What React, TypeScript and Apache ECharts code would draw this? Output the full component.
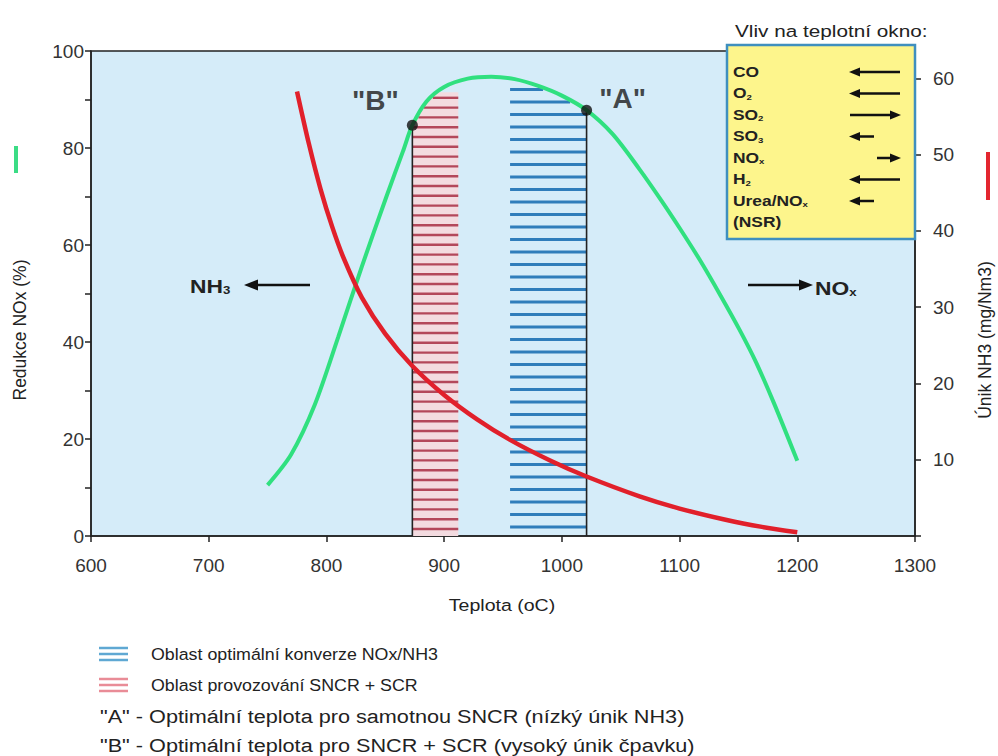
import React, { useEffect, useRef } from "react";
import * as echarts from "echarts";

// ---- data ----
const tempGreen = [750, 770, 790, 810, 830, 851, 865, 873, 885, 900, 920, 940, 960, 980, 1000, 1021, 1043, 1066, 1085, 1100, 1117, 1135, 1151, 1165, 1180, 1200];
const noxReduction = [10.5, 16.8, 27, 41, 55.5, 70, 79.3, 84.7, 89.6, 92.6, 94.3, 94.7, 94.2, 92.8, 90.8, 87.8, 82.9, 75.6, 69, 63.5, 57, 49.5, 42.5, 35.8, 27.5, 15.5];

const tempNH3 = [775, 785, 795, 805, 815, 830, 850, 873, 900, 928, 956, 990, 1021, 1066, 1100, 1140, 1170, 1200];
const nh3Slip = [58.3, 51.5, 45.5, 40.5, 36.3, 31.3, 26.5, 22.3, 18.5, 15.3, 12.6, 9.9, 7.8, 5.2, 3.6, 2.1, 1.2, 0.5];

const xAxisTitle = "Teplota (oC)";
const leftAxisTitle = "Redukce NOx (%)";
const rightAxisTitle = "Únik NH3 (mg/Nm3)";
const rightTickValues = [0, 10, 20, 30, 40, 50, 60];
const rightLabelValues = [10, 20, 30, 40, 50, 60];

// hatched zones: [0] SNCR + SCR (red), [1] optimal conversion (blue)
const zoneFrom = [873, 956];
const zoneTo = [912, 1021];
const zoneTop = [91.5, 92.6];

const markerTemps = [873, 1021];
const markerNox = [84.7, 87.8];
const markerLabels = ['"B"', '"A"'];

const influenceTitle = "Vliv na teplotní okno:";
const influenceLabels = ["{b|CO}", "{b|O}{s|2}", "{b|SO}{s|2}", "{b|SO}{s|3}", "{b|NO}{s|x}", "{b|H}{s|2}", "{b|Urea/NO}{s|x}", "{b|(NSR)}"];
const influenceShift = [-2, -2, 2, -1, 1, -2, -1, 0];

const legendHatch = ["Oblast optimální konverze NOx/NH3", "Oblast provozování SNCR + SCR"];
const legendNotes = ['"A" - Optimální teplota pro samotnou SNCR (nízký únik NH3)', '"B" - Optimální teplota pro SNCR + SCR (vysoký únik čpavku)'];

const FONT = '"Liberation Sans", Arial, Helvetica, sans-serif';

function arrow(x1: number, x2: number, y: number, lw: number, head: number, hw: number) {
  const dir = x2 > x1 ? 1 : -1;
  const tipBase = x2 - dir * head;
  return [
    { type: "line", z: 120, shape: { x1, y1: y, x2: tipBase, y2: y }, style: { stroke: "#111", lineWidth: lw } },
    { type: "polygon", z: 120, shape: { points: [[x2, y], [tipBase, y - hw], [tipBase, y + hw]] }, style: { fill: "#111" } },
  ];
}

export default function App() {
  const ref = useRef<HTMLDivElement>(null);
  useEffect(() => {
    document.body.style.margin = "0";
    const chart = echarts.init(ref.current!, null, { renderer: "svg" });

    const zoneRender = (params: any, api: any) => {
      const x0 = api.value(0), x1 = api.value(1), top = api.value(2);
      const isRed = params.dataIndex === 0;
      const pts = tempGreen.map((t, i) => api.coord([t, noxReduction[i]]));
      const gy = (px: number) => {
        for (let i = 0; i < pts.length - 1; i++) {
          const a = pts[i], b = pts[i + 1];
          if (px >= a[0] && px <= b[0]) {
            const f = (px - a[0]) / (b[0] - a[0]);
            return a[1] + f * (b[1] - a[1]);
          }
        }
        return Infinity;
      };
      const pa = api.coord([x0, 0]);
      const pb = api.coord([x1, 0]);
      const pt = api.coord([x0, top]);
      const children: any[] = [];
      const xs: number[] = [];
      for (let px = pa[0]; px < pb[0]; px += 0.5) xs.push(px);
      xs.push(pb[0]);
      if (isRed) {
        const poly: number[][] = [[pa[0], pa[1]], [pb[0], pb[1]]];
        for (let k = xs.length - 1; k >= 0; k--) {
          poly.push([xs[k], Math.max(gy(xs[k]), pt[1])]);
        }
        children.push({ type: "polygon", shape: { points: poly }, style: { fill: "#f3dbe0" } });
      }
      const step = isRed ? 9.8 : 12.5;
      const lw = isRed ? 2.4 : 3.2;
      const color = isRed ? "#b3475a" : "#2f7dbb";
      for (let y = pa[1] - (isRed ? 7 : 9); y >= pt[1] - 0.1; y -= step) {
        let start: number | null = null, last = 0;
        const push = (s: number, e: number) => {
          if (e - s > 1) children.push({ type: "line", shape: { x1: s, y1: y, x2: e, y2: y }, style: { stroke: color, lineWidth: lw } });
        };
        for (const px of xs) {
          const inside = gy(px) <= y - 1.5;
          if (inside) {
            if (start === null) start = px;
            last = px;
          } else if (start !== null) {
            push(start, last);
            start = null;
          }
        }
        if (start !== null) push(start, last);
      }
      return { type: "group", children };
    };

    const graphic: any[] = [];
    // axis titles and colour markers
    graphic.push({ type: "text", z: 120, x: 20, y: 330, rotation: Math.PI / 2, style: { text: leftAxisTitle, font: `17.5px ${FONT}`, fill: "#222", align: "center", verticalAlign: "middle" } });
    graphic.push({ type: "rect", z: 120, shape: { x: 14, y: 146, width: 4, height: 27 }, style: { fill: "#3bdc85" } });
    graphic.push({ type: "text", z: 120, x: 985, y: 340, rotation: Math.PI / 2, style: { text: rightAxisTitle, font: `17.5px ${FONT}`, fill: "#222", align: "center", verticalAlign: "middle" } });
    graphic.push({ type: "rect", z: 120, shape: { x: 986, y: 152, width: 4, height: 48 }, style: { fill: "#e3262f" } });
    graphic.push({ type: "text", z: 120, x: 502, y: 605, scaleX: 1.15, style: { text: xAxisTitle, font: `17px ${FONT}`, fill: "#222", align: "center", verticalAlign: "middle" } });

    // NH3 / NOx arrows in plot
    const richBig = { b: { font: `bold 19px ${FONT}`, fill: "#222", verticalAlign: "bottom", lineHeight: 20 }, s: { font: `bold 11px ${FONT}`, fill: "#222", verticalAlign: "bottom", lineHeight: 10 } };
    graphic.push({ type: "text", z: 120, x: 190, y: 286, scaleX: 1.2, style: { text: "{b|NH}{s|3}", rich: richBig, verticalAlign: "middle" } });
    graphic.push(...arrow(310, 244, 285, 2.5, 14, 5.5));
    graphic.push(...arrow(748, 813, 285, 2.5, 14, 5.5));
    graphic.push({ type: "text", z: 120, x: 815, y: 288, scaleX: 1.2, style: { text: "{b|NO}{s|x}", rich: richBig, verticalAlign: "middle" } });

    // influence box
    graphic.push({ type: "text", z: 120, x: 735, y: 31, scaleX: 1.22, style: { text: influenceTitle, font: `17px ${FONT}`, fill: "#222", verticalAlign: "middle" } });
    graphic.push({ type: "rect", z: 110, shape: { x: 727, y: 45, width: 188, height: 194 }, style: { fill: "#fdf58c", stroke: "#3f8fbf", lineWidth: 2.5 } });
    influenceLabels.forEach((lab, i) => {
      const y = 72 + i * 21.5;
      graphic.push({ type: "text", z: 120, x: 733, y, scaleX: 1.2, style: { text: lab, rich: { b: { font: `bold 14.5px ${FONT}`, fill: "#222", verticalAlign: "bottom", lineHeight: 15 }, s: { font: `bold 8px ${FONT}`, fill: "#222", verticalAlign: "bottom", lineHeight: 7 } }, verticalAlign: "middle" } });
      const sh = influenceShift[i];
      if (sh === -2) graphic.push(...arrow(900, 849, y, 2.5, 11, 4.5));
      if (sh === 2) graphic.push(...arrow(850, 901, y, 2.5, 11, 4.5));
      if (sh === -1) graphic.push(...arrow(874, 849, y, 2.5, 11, 4.5));
      if (sh === 1) graphic.push(...arrow(877, 901, y, 2.5, 11, 4.5));
    });

    // bottom legend
    const legendY = [654, 685];
    legendHatch.forEach((t, i) => {
      const y = legendY[i];
      const c = i === 0 ? "#5fa8d3" : "#e98c97";
      [-6, 0, 6].forEach((d) => {
        graphic.push({ type: "line", z: 120, shape: { x1: 99, y1: y + d, x2: 128, y2: y + d }, style: { stroke: c, lineWidth: 2.5 } });
      });
      graphic.push({ type: "text", z: 120, x: 151, y, scaleX: 1.08, style: { text: t, font: `16.5px ${FONT}`, fill: "#222", verticalAlign: "middle" } });
    });
    const noteY = [716, 745];
    legendNotes.forEach((t, i) => {
      graphic.push({ type: "text", z: 120, x: 100, y: noteY[i], scaleX: 1.14, style: { text: t, font: `19px ${FONT}`, fill: "#222", verticalAlign: "middle" } });
    });

    const series: any[] = [
      {
        type: "custom",
        renderItem: zoneRender,
        data: zoneFrom.map((f, i) => [f, zoneTo[i], zoneTop[i]]),
        encode: { x: [0, 1], y: 2 },
        z: 1,
        silent: true,
      },
      ...markerTemps.map((t, i) => ({
        type: "line",
        data: [[t, 0], [t, markerNox[i]]],
        showSymbol: false,
        lineStyle: { color: "#222", width: 1.6 },
        z: 2,
      })),
      {
        type: "line",
        data: tempGreen.map((t, i) => [t, noxReduction[i]]),
        smooth: 0.3,
        showSymbol: false,
        lineStyle: { color: "#30e07f", width: 4 },
        z: 3,
      },
      {
        type: "line",
        yAxisIndex: 1,
        data: tempNH3.map((t, i) => [t, nh3Slip[i]]),
        smooth: 0.3,
        showSymbol: false,
        lineStyle: { color: "#e1202b", width: 4.5 },
        z: 3,
      },
      {
        type: "scatter",
        data: markerTemps.map((t, i) => [t, markerNox[i]]),
        symbolSize: 11,
        itemStyle: { color: "#111" },
        z: 5,
        label: {
          show: true,
          position: "inside",
          formatter: (p: any) => markerLabels[p.dataIndex],
          fontFamily: FONT,
          fontWeight: "bold",
          fontSize: 28,
          color: "#1a1a1a",
        },
        labelLayout: (p: any) => (p.dataIndex === 0 ? { dx: -37, dy: -25 } : { dx: 36, dy: -12 }),
      },
    ];

    chart.setOption({
      animation: false,
      backgroundColor: "#ffffff",
      textStyle: { fontFamily: FONT },
      grid: { left: 91, right: 83, top: 51, bottom: 220, show: true, backgroundColor: "#d5ecf9", borderColor: "#222", borderWidth: 1.5 },
      xAxis: {
        type: "value",
        min: 600,
        max: 1300,
        interval: 100,
        axisLine: { show: true, onZero: false, lineStyle: { color: "#222", width: 1.5 } },
        axisTick: { show: true, length: 6, lineStyle: { color: "#222", width: 1.5 } },
        axisLabel: { fontSize: 19, color: "#333", margin: 20, fontFamily: FONT, formatter: (v: number) => String(v) },
        splitLine: { show: false },
      },
      yAxis: [
        {
          type: "value",
          min: 0,
          max: 100,
          interval: 20,
          axisLine: { show: true, lineStyle: { color: "#222", width: 1.5 } },
          axisTick: { show: true, length: 6, lineStyle: { color: "#222", width: 1.5 } },
          minorTick: { show: true, splitNumber: 2, length: 6, lineStyle: { color: "#222", width: 1.5 } },
          axisLabel: { fontSize: 19, color: "#333", margin: 7, fontFamily: FONT },
          splitLine: { show: false },
        },
        {
          type: "value",
          position: "right",
          min: 0,
          max: 63.6,
          axisLine: { show: true, lineStyle: { color: "#222", width: 1.5 } },
          axisTick: { show: true, length: 6, customValues: rightTickValues, lineStyle: { color: "#222", width: 1.5 } },
          axisLabel: { fontSize: 19, color: "#333", margin: 18, fontFamily: FONT, customValues: rightLabelValues },
          splitLine: { show: false },
        },
      ],
      series,
      graphic,
    });
    return () => chart.dispose();
  }, []);
  return <div ref={ref} style={{ width: 998, height: 756 }} />;
}
